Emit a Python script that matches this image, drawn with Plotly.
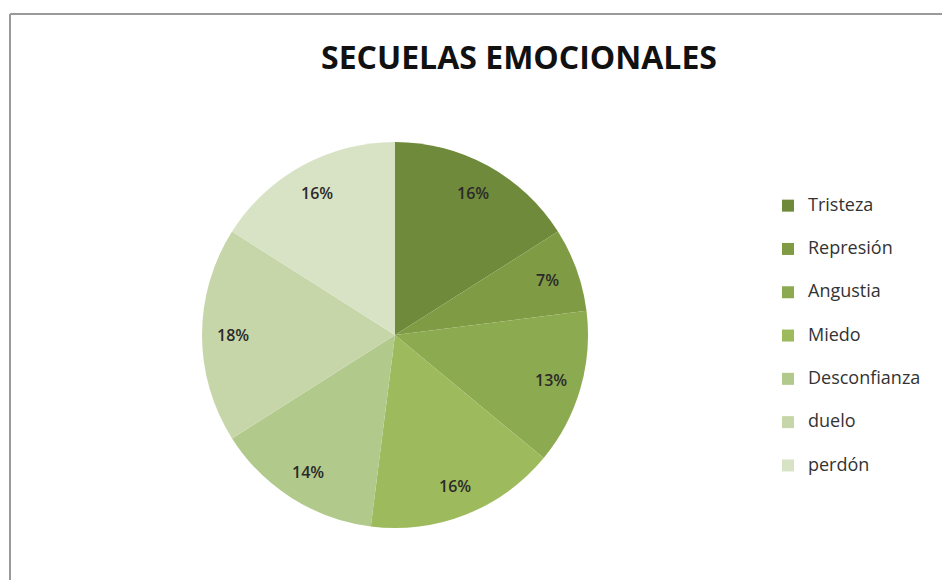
import math
import plotly.graph_objects as go

categories = ["Tristeza", "Represión", "Angustia", "Miedo", "Desconfianza", "duelo", "perdón"]
values = [16, 7, 13, 16, 14, 18, 16]
colors = ["#6f8a3b", "#7f9c45", "#8caa4f", "#9dbb5c", "#b2c98c", "#c6d6a9", "#d8e3c5"]

OFF = 8            # page body margin in the browser
W, H = 950 - OFF, 580 - OFF
CX, CY, R = 395, 335, 193  # pixel layout of the pie (screen coords)


def fx(x):
    return (x - OFF) / W


def fy(y):
    return 1 - (y - OFF) / H


dom_x = [fx(CX - R), fx(CX + R)]
dom_y = [fy(CY + R), fy(CY - R)]

legend_labels = [
    '<span style="font-size:18px;baseline-shift:7px">%s</span>' % c for c in categories
]

fig = go.Figure()
fig.add_trace(go.Pie(
    labels=legend_labels,
    values=values,
    sort=False,
    direction="clockwise",
    rotation=0,
    marker=dict(colors=colors, line=dict(width=0)),
    textinfo="none",
    hoverinfo="percent",
    domain=dict(x=dom_x, y=dom_y),
    showlegend=True,
))

# percent labels positioned from the data's cumulative angles
total = sum(values)
cum = 0
annotations = []
for v in values:
    mid = (cum + v / 2) / total * 2 * math.pi
    cum += v
    rr = 0.84 * R
    px = CX + rr * math.sin(mid)
    py = CY - rr * math.cos(mid)
    annotations.append(dict(
        x=fx(px), y=fy(py), xref="paper", yref="paper",
        text="%d%%" % round(v / total * 100), showarrow=False,
        font=dict(family="Open Sans", size=16, color="#2a2a2a", weight=600),
        xanchor="center", yanchor="middle",
    ))

fig.update_layout(
    width=W, height=H,
    margin=dict(l=0, r=0, t=0, b=0),
    paper_bgcolor="white",
    plot_bgcolor="white",
    title=dict(
        text="<b>SECUELAS EMOCIONALES</b>",
        x=fx(519), xanchor="center",
        y=fy(58), yanchor="middle",
        font=dict(family="Open Sans", size=32, color="#111111"),
    ),
    legend=dict(
        x=fx(768), xanchor="left",
        y=fy(336), yanchor="middle",
        font=dict(family="Open Sans", size=31, color="#333333"),
        bgcolor="rgba(0,0,0,0)",
        itemclick=False,
    ),
    annotations=annotations,
    shapes=[
        dict(type="line", xref="paper", yref="paper",
             x0=fx(10), x1=1, y0=fy(14), y1=fy(14),
             line=dict(color="#9a9a9a", width=2)),
        dict(type="line", xref="paper", yref="paper",
             x0=fx(10), x1=fx(10), y0=0, y1=fy(14),
             line=dict(color="#9a9a9a", width=2)),
    ],
)

fig.write_html("out.html")
